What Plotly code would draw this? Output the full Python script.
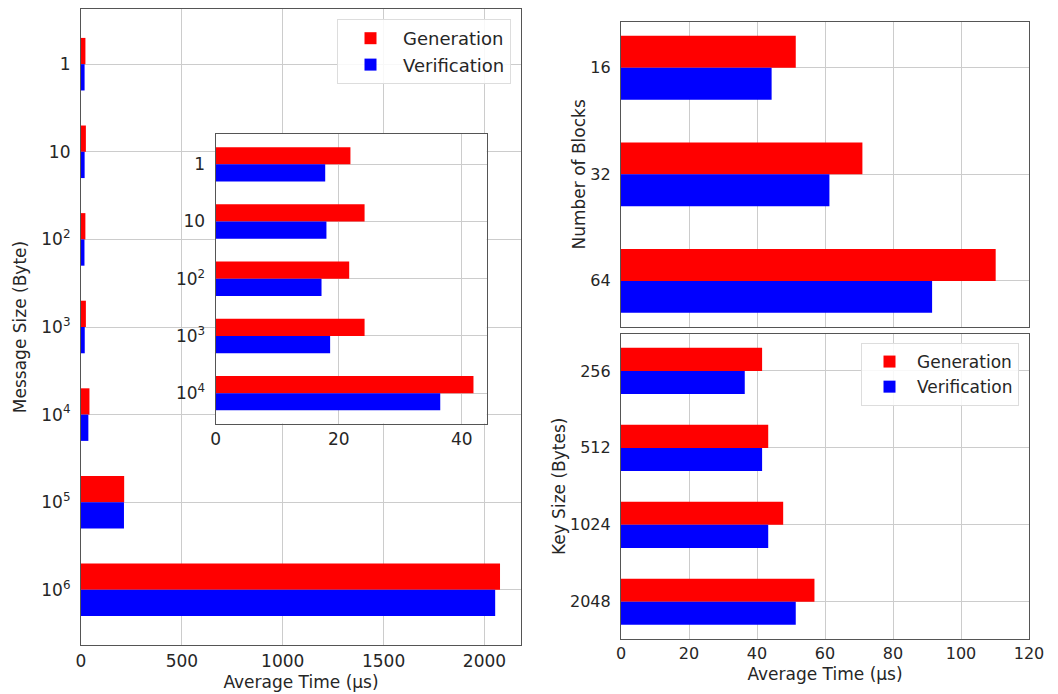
import plotly.graph_objects as go

# ---- data ----
msg_labels = ["1", "10", "10<sup>2</sup>", "10<sup>3</sup>", "10<sup>4</sup>", "10<sup>5</sup>", "10<sup>6</sup>"]
msg_gen = [21.9, 24.2, 21.7, 24.2, 41.9, 214, 2077]
msg_ver = [17.8, 18.0, 17.2, 18.6, 36.5, 213, 2053]

inset_labels = msg_labels[:5]
inset_gen = msg_gen[:5]
inset_ver = msg_ver[:5]

block_labels = ["16", "32", "64"]
block_gen = [51.4, 71.0, 110.2]
block_ver = [44.3, 61.3, 91.5]

key_labels = ["256", "512", "1024", "2048"]
key_gen = [41.5, 43.3, 47.7, 56.9]
key_ver = [36.4, 41.5, 43.3, 51.4]

RED = "#ff0000"
BLUE = "#0000ff"
FONT = "DejaVu Sans"
TXT = "#262626"
GRID = "#cccccc"
SPINE = "#555555"

OFF = 8  # page body margin
W, H = 1058 - OFF, 694 - OFF
ML, MT = 81 - OFF, 9 - OFF
MR = W - (1029 - OFF)
MB = H - (645 - OFF)
PW, PH = W - ML - MR, H - MT - MB

fig = go.Figure()

def add_pair(cats, gen, ver, xa, ya, legend=None):
    show = legend is not None
    fig.add_trace(go.Bar(y=cats, x=gen, orientation="h", name="Generation",
                         marker=dict(color=RED, line=dict(width=0)),
                         xaxis=xa, yaxis=ya, showlegend=show,
                         legend=legend if show else "legend", offsetgroup="g"))
    fig.add_trace(go.Bar(y=cats, x=ver, orientation="h", name="Verification",
                         marker=dict(color=BLUE, line=dict(width=0)),
                         xaxis=xa, yaxis=ya, showlegend=show,
                         legend=legend if show else "legend", offsetgroup="v"))

add_pair(msg_labels, msg_gen, msg_ver, "x", "y", legend="legend")
add_pair(inset_labels, inset_gen, inset_ver, "x2", "y2")
add_pair(block_labels, block_gen, block_ver, "x3", "y3")
add_pair(key_labels, key_gen, key_ver, "x4", "y4", legend="legend2")

def px_x(p):
    return (p - OFF - ML) / PW

def px_y(p):
    return 1 - (p - OFF - MT) / PH

def common(size):
    return dict(showgrid=True, gridcolor=GRID, gridwidth=1, showline=True,
                linecolor=SPINE, linewidth=1.2, mirror=True, zeroline=False,
                tickfont=dict(family=FONT, size=size, color=TXT), ticks="",
                automargin=False)

xl = dict(common(17), ticklabelstandoff=0)
yl = dict(common(17), ticklabelstandoff=6)
xr = dict(common(16), ticklabelstandoff=0)
yr = dict(common(16), ticklabelstandoff=6)

title_font = dict(family=FONT, size=17, color=TXT)

fig.update_layout(
    width=W, height=H,
    margin=dict(l=ML, r=MR, t=MT, b=MB, autoexpand=False),
    paper_bgcolor="white", plot_bgcolor="white",
    barmode="group", bargap=0.4, bargroupgap=0,
    font=dict(family=FONT, color=TXT),
    # main left
    xaxis=dict(xl, domain=[px_x(81), px_x(521)], range=[0, 2181],
               tickvals=[0, 500, 1000, 1500, 2000], anchor="y",
               title=dict(text="Average Time (µs)", font=title_font, standoff=6)),
    yaxis=dict(yl, domain=[px_y(645), px_y(9)], type="category",
               categoryorder="array", categoryarray=msg_labels,
               range=[6.63, -0.63], anchor="x",
               title=dict(text="Message Size (Byte)", font=title_font, standoff=10)),
    # inset
    xaxis2=dict(xl, domain=[px_x(215.7), px_x(486.7)], range=[0, 44.05],
                tickvals=[0, 20, 40], anchor="y2"),
    yaxis2=dict(yl, domain=[px_y(423.5), px_y(134)], type="category",
                categoryorder="array", categoryarray=inset_labels,
                range=[4.53, -0.53], anchor="x2"),
    # top right
    xaxis3=dict(xr, domain=[px_x(621), px_x(1029)], range=[0, 120],
                tickvals=[0, 20, 40, 60, 80, 100, 120], showticklabels=False, anchor="y3"),
    yaxis3=dict(yr, domain=[px_y(326.7), px_y(22)], type="category",
                categoryorder="array", categoryarray=block_labels,
                range=[2.43, -0.43], anchor="x3",
                title=dict(text="Number of Blocks", font=title_font, standoff=0)),
    # bottom right
    xaxis4=dict(xr, domain=[px_x(621), px_x(1029)], range=[0, 120],
                tickvals=[0, 20, 40, 60, 80, 100, 120], anchor="y4",
                title=dict(text="Average Time (µs)", font=title_font, standoff=6)),
    yaxis4=dict(yr, domain=[px_y(638.7), px_y(334)], type="category",
                categoryorder="array", categoryarray=key_labels,
                range=[3.48, -0.48], anchor="x4",
                title=dict(text="Key Size (Bytes)", font=title_font, standoff=0)),
    legend=dict(x=px_x(511), y=px_y(19), xanchor="right", yanchor="top",
                bgcolor="rgba(255,255,255,0.85)", bordercolor="#dddddd", borderwidth=1,
                font=dict(family=FONT, size=18, color=TXT), traceorder="normal",
                itemwidth=55),
    legend2=dict(x=px_x(1019), y=px_y(343), xanchor="right", yanchor="top",
                 bgcolor="rgba(255,255,255,0.85)", bordercolor="#dddddd", borderwidth=1,
                 font=dict(family=FONT, size=17, color=TXT), traceorder="normal",
                 itemwidth=45),
    shapes=[dict(type="rect", xref="x2 domain", yref="y2 domain", x0=0, x1=1, y0=0, y1=1,
                 fillcolor="white", line=dict(width=0), layer="below")],
)

fig.write_html("out.html")
